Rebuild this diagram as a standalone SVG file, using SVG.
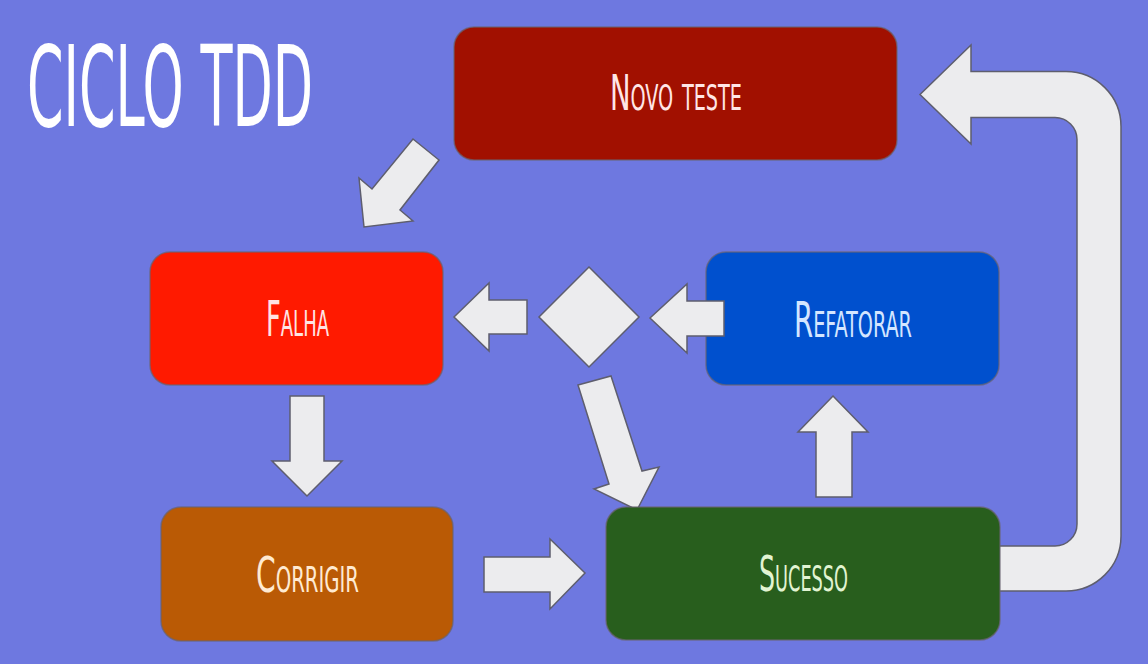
<svg xmlns="http://www.w3.org/2000/svg" width="1148" height="664" viewBox="0 0 1148 664">
<style>
.arrow{fill:#ECECEE;stroke:#5E5E6E;stroke-width:1.5;stroke-linejoin:miter}
.box{stroke:#6A6470;stroke-opacity:0.7;stroke-width:1.5}
.lbl{font-family:"Liberation Sans Narrow","DejaVu Sans Condensed","Liberation Sans",sans-serif;font-size:50px;font-variant:small-caps}
.title{font-family:"Liberation Sans Narrow","DejaVu Sans Condensed","Liberation Sans",sans-serif;font-size:112px;fill:#FFFFFF}
</style>
<rect x="0" y="0" width="1148" height="664" fill="#6E78E0"/>
<text class="title" x="27" y="126" textLength="286" lengthAdjust="spacingAndGlyphs">CICLO TDD</text>
<g id="connectors">
<path class="arrow" d="M920,94.5 L971,45 L971,71.5 L1066,71.5 A55,55 0 0 1 1121,126.5 L1121,536 A55,55 0 0 1 1066,591 L990,591 L990,546 L1055,546 A22,22 0 0 0 1077,524 L1077,139.5 A22,22 0 0 0 1055,117.5 L971,117.5 L971,144 Z"/>
<polygon class="arrow" points="413,139 439,160 400,210 413,221 364,227 359,178 372,189"/>
<polygon class="arrow" points="454,317 489,283 489,300 527,300 527,334 489,334 489,351"/>
<polygon class="arrow" points="589,267 639,317 589,367 539,317"/>
<polygon class="arrow" points="578,385 611,376 642,471 659,467 637,510 594,489 609,484"/>
<polygon class="arrow" points="290,396 324,396 324,461 342,461 307,496 272,461 290,461"/>
<polygon class="arrow" points="484,557 550,557 550,539 585,573 550,609 550,592 484,592"/>
<polygon class="arrow" points="833,396 868,432 852,432 852,497 816,497 816,432 798,432"/>
</g>
<g id="novo-teste">
<rect class="box" x="454" y="27" width="443" height="133" rx="20" fill="#A11000"/>
<text class="lbl" x="610" y="110" textLength="132" lengthAdjust="spacingAndGlyphs" fill="#FFE6E6">Novo teste</text>
</g>
<g id="falha">
<rect class="box" x="150" y="252" width="293" height="133" rx="20" fill="#FF1A00"/>
<text class="lbl" x="266" y="336" textLength="63" lengthAdjust="spacingAndGlyphs" fill="#FFE4E4">Falha</text>
</g>
<g id="refatorar">
<rect class="box" x="706" y="252" width="293" height="133" rx="20" fill="#0050CE"/>
<text class="lbl" x="794" y="337" textLength="118" lengthAdjust="spacingAndGlyphs" fill="#D4E6FF">Refatorar</text>
</g>
<polygon class="arrow" points="650,318 687,284 687,301 724,301 724,336 687,336 687,353"/>
<g id="corrigir">
<rect class="box" x="161" y="507" width="292" height="134" rx="20" fill="#BA5A05"/>
<text class="lbl" x="256" y="592" textLength="103" lengthAdjust="spacingAndGlyphs" fill="#FFEAD2">Corrigir</text>
</g>
<g id="sucesso">
<rect class="box" x="606" y="507" width="394" height="133" rx="20" fill="#285E1D"/>
<text class="lbl" x="759" y="591" textLength="89" lengthAdjust="spacingAndGlyphs" fill="#E2F4D2">Sucesso</text>
</g>
</svg>
